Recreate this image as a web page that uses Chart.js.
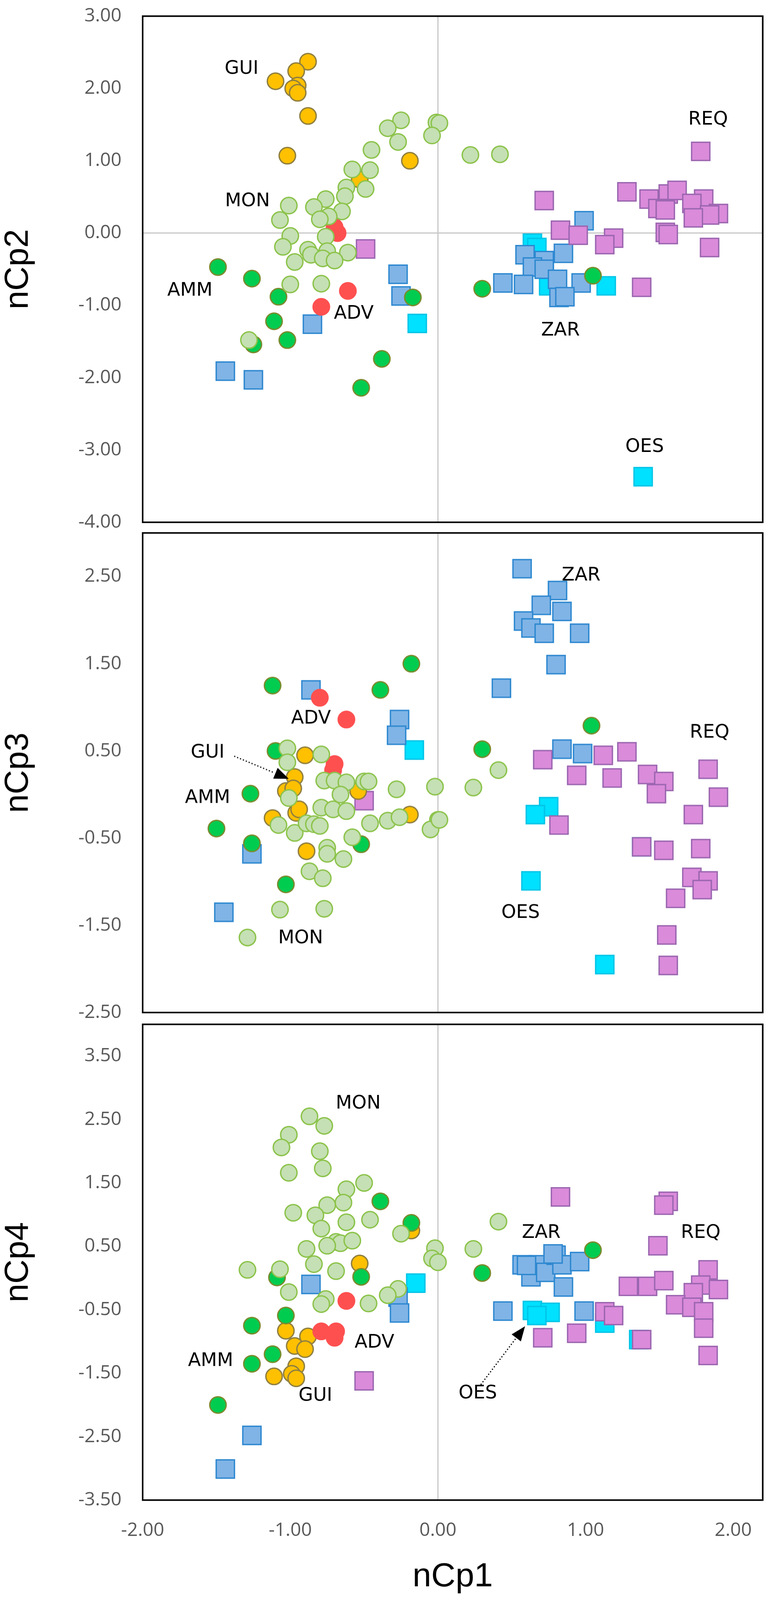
<!DOCTYPE html>
<html>
<head>
<meta charset="utf-8">
<script src="https://cdn.jsdelivr.net/npm/chart.js@4.4.0/dist/chart.umd.min.js"></script>
<style>
  html, body { margin: 0; padding: 0; background: #fff; overflow: hidden; }
  #wrap { position: relative; width: 1988px; height: 4160px; }
  .panel { position: absolute; left: 0; width: 1988px; }
</style>
</head>
<body>
<div id="wrap">
  <div class="panel" id="box2"><canvas id="cp2"></canvas></div>
  <div class="panel" id="box3"><canvas id="cp3"></canvas></div>
  <div class="panel" id="box4"><canvas id="cp4"></canvas></div>
</div>
<script>
// axis ticks
const xTicks = [-2, -1, 0, 1, 2];
const yTicks2 = [3, 2, 1, 0, -1, -2, -3, -4];
const yTicks3 = [2.5, 1.5, 0.5, -0.5, -1.5, -2.5];
const yTicks4 = [3.5, 2.5, 1.5, 0.5, -0.5, -1.5, -2.5, -3.5];

// nCp1 vs nCp2
const MON_2 = [[-0.25,1.56],[-0.34,1.45],[-0.27,1.26],[-0.01,1.53],[0.01,1.52],[-0.04,1.35],[-0.45,1.15],[0.22,1.08],[0.42,1.09],[-0.58,0.88],[-0.46,0.87],[-0.62,0.63],[-0.49,0.61],[-0.63,0.51],[-0.76,0.47],[-0.84,0.36],[-1.01,0.38],[-0.65,0.30],[-0.74,0.23],[-0.80,0.19],[-1.07,0.18],[-1.00,-0.04],[-0.76,-0.05],[-1.05,-0.19],[-0.88,-0.23],[-0.86,-0.30],[-0.75,-0.25],[-0.61,-0.27],[-0.78,-0.35],[-0.97,-0.40],[-0.70,-0.38],[-1.00,-0.71],[-0.79,-0.70],[-1.28,-1.48]];
const GUI_2 = [[-0.88,2.37],[-0.96,2.24],[-1.10,2.10],[-0.95,2.04],[-0.98,2.00],[-0.95,1.94],[-0.88,1.62],[-1.02,1.07],[-0.53,0.74],[-0.19,1.00]];
const AMM_2 = [[-1.49,-0.47],[-1.26,-0.63],[-1.08,-0.88],[-1.11,-1.22],[-1.02,-1.48],[-1.25,-1.54],[-0.17,-0.89],[-0.38,-1.74],[-0.52,-2.14],[0.30,-0.77],[1.05,-0.59]];
const ADV_2 = [[-0.68,0.00],[-0.70,0.08],[-0.61,-0.80],[-0.79,-1.02]];
const ZAR_2 = [[-1.44,-1.91],[-1.25,-2.03],[-0.85,-1.26],[-0.27,-0.57],[-0.25,-0.87],[0.99,0.17],[0.59,-0.30],[0.85,-0.28],[0.72,-0.38],[0.64,-0.47],[0.72,-0.50],[0.44,-0.69],[0.58,-0.71],[0.81,-0.64],[0.97,-0.69],[0.82,-0.89],[0.86,-0.88]];
const OES_2 = [[-0.14,-1.25],[0.64,-0.14],[0.67,-0.20],[0.75,-0.73],[1.14,-0.73],[1.39,-3.37]];
const REQ_2 = [[1.78,1.13],[0.72,0.45],[1.28,0.57],[1.43,0.47],[1.56,0.54],[1.62,0.59],[1.80,0.47],[1.72,0.41],[1.49,0.34],[1.54,0.32],[1.90,0.27],[1.84,0.25],[1.73,0.21],[1.54,0.01],[1.56,-0.02],[1.84,-0.20],[0.83,0.04],[0.95,-0.03],[1.19,-0.07],[1.13,-0.16],[1.38,-0.75],[-0.49,-0.22]];

// nCp1 vs nCp3
const MON_3 = [[-1.02,0.53],[-1.02,0.37],[-0.79,0.46],[-1.01,-0.04],[-0.77,0.16],[-0.70,0.16],[-0.62,0.14],[-0.50,0.15],[-0.47,0.15],[-0.66,0.00],[-0.28,0.06],[-0.02,0.09],[-0.79,-0.15],[-0.71,-0.17],[-0.62,-0.19],[-1.08,-0.35],[-0.97,-0.44],[-0.89,-0.33],[-0.84,-0.34],[-0.80,-0.36],[-0.46,-0.33],[-0.34,-0.30],[-0.26,-0.26],[0.00,-0.29],[-0.05,-0.40],[-0.58,-0.49],[-0.75,-0.61],[-0.75,-0.68],[-0.64,-0.74],[-0.87,-0.88],[-0.78,-0.96],[-1.07,-1.32],[-0.77,-1.31],[-1.29,-1.64],[0.24,0.08],[0.41,0.28],[0.01,-0.29]];
const GUI_3 = [[-0.90,0.45],[-0.97,0.20],[-1.03,0.04],[-0.98,0.07],[-0.54,0.04],[-0.96,-0.21],[-0.94,-0.17],[-1.12,-0.27],[-0.19,-0.23],[-0.89,-0.65]];
const AMM_3 = [[-1.12,1.25],[-0.39,1.20],[-0.18,1.50],[-1.10,0.50],[-1.27,0.01],[-1.50,-0.39],[-1.26,-0.56],[-0.52,-0.57],[-1.03,-1.03],[0.30,0.52],[1.04,0.79]];
const ADV_3 = [[-0.80,1.11],[-0.62,0.86],[-0.70,0.35],[-0.71,0.28]];
const ZAR_3 = [[-0.86,1.20],[-0.26,0.86],[-0.28,0.68],[-1.26,-0.68],[-1.45,-1.35],[0.57,2.59],[0.81,2.34],[0.70,2.17],[0.84,2.10],[0.58,1.99],[0.63,1.91],[0.72,1.85],[0.96,1.85],[0.80,1.49],[0.43,1.22],[0.84,0.52],[0.98,0.47]];
const OES_3 = [[-0.16,0.51],[0.75,-0.14],[0.66,-0.23],[0.63,-0.99],[1.13,-1.95],[1.38,-0.60]];
const REQ_3 = [[-0.50,-0.07],[0.71,0.40],[0.94,0.22],[1.12,0.45],[1.28,0.49],[1.18,0.19],[1.42,0.23],[1.53,0.15],[1.48,0.01],[1.83,0.29],[1.90,-0.03],[1.73,-0.23],[0.82,-0.35],[1.38,-0.60],[1.53,-0.64],[1.78,-0.62],[1.72,-0.95],[1.83,-0.99],[1.79,-1.09],[1.61,-1.19],[1.55,-1.61],[1.56,-1.96]];

// nCp1 vs nCp4
const MON_4 = [[-0.87,2.55],[-0.77,2.40],[-1.01,2.26],[-1.06,2.06],[-0.80,2.00],[-0.78,1.73],[-1.01,1.66],[-0.50,1.50],[-0.62,1.40],[-0.64,1.19],[-0.75,1.15],[-0.98,1.03],[-0.83,0.99],[-0.62,0.88],[-0.46,0.92],[-0.79,0.78],[-0.25,0.70],[-0.69,0.57],[-0.66,0.55],[-0.75,0.51],[-0.58,0.59],[-0.89,0.46],[-0.02,0.47],[-0.04,0.31],[0.00,0.25],[-0.84,0.22],[-1.29,0.13],[-1.07,0.14],[-0.69,0.11],[-1.01,-0.22],[-0.27,-0.17],[-0.34,-0.27],[-0.76,-0.33],[-0.79,-0.41],[-0.47,-0.40],[0.41,0.89],[0.24,0.46]];
const GUI_4 = [[-0.53,0.23],[-0.18,0.75],[-1.03,-0.83],[-0.88,-0.92],[-0.97,-1.07],[-0.90,-1.12],[-0.96,-1.39],[-0.99,-1.51],[-0.96,-1.58],[-1.11,-1.55]];
const AMM_4 = [[-0.39,1.21],[-0.18,0.87],[-1.09,0.01],[-0.52,0.02],[-1.03,-0.59],[-1.26,-0.75],[-1.12,-1.20],[-1.26,-1.35],[-1.49,-2.00],[0.30,0.08],[1.05,0.44]];
const ADV_4 = [[-0.62,-0.36],[-0.79,-0.84],[-0.69,-0.84],[-0.70,-0.94]];
const ZAR_4 = [[-0.86,-0.10],[-0.27,-0.30],[-0.26,-0.55],[-1.26,-2.48],[-1.44,-3.01],[0.57,0.21],[0.63,0.02],[0.68,0.21],[0.73,0.09],[0.80,0.36],[0.84,0.21],[0.96,0.26],[0.85,-0.14],[0.44,-0.52],[0.99,-0.52],[0.78,0.38],[0.60,0.20]];
const OES_4 = [[-0.15,-0.08],[0.64,-0.51],[0.76,-0.54],[0.67,-0.59],[1.13,-0.71],[1.36,-0.97]];
const REQ_4 = [[-0.50,-1.62],[0.83,1.28],[1.56,1.21],[1.53,1.15],[1.49,0.51],[1.83,0.13],[1.29,-0.13],[1.42,-0.13],[1.53,-0.04],[1.78,-0.11],[1.73,-0.23],[1.90,-0.18],[1.61,-0.42],[1.72,-0.46],[1.80,-0.53],[1.80,-0.79],[1.83,-1.22],[1.13,-0.53],[1.19,-0.59],[0.94,-0.87],[0.71,-0.94],[1.38,-0.97]];

// group labels [text, nCp1, nCpN] and arrows [fromX, fromY, toX, toY]
const LAB_2 = [['GUI',-1.33,2.27],['MON',-1.29,0.44],['AMM',-1.68,-0.80],['ADV',-0.57,-1.12],['REQ',1.83,1.57],['ZAR',0.83,-1.35],['OES',1.40,-2.96]];
const LAB_3 = [['ZAR',0.97,2.51],['ADV',-0.86,0.87],['GUI',-1.56,0.48],['AMM',-1.56,-0.04],['REQ',1.84,0.71],['OES',0.56,-1.36],['MON',-0.93,-1.65]];
const LAB_4 = [['MON',-0.54,2.75],['ZAR',0.70,0.71],['REQ',1.78,0.71],['ADV',-0.43,-1.02],['AMM',-1.54,-1.31],['GUI',-0.83,-1.86],['OES',0.27,-1.82]];
const ARR_3 = [[-1.38,0.44,-1.01,0.18]];
const ARR_4 = [[0.29,-1.68,0.59,-0.76]];

// first listed is drawn on top
const styles = {
  MON: { shape: 'circle', fill: '#C5E0B4', line: '#8CC34B' },
  AMM: { shape: 'circle', fill: '#00CC50', line: '#7B8B2E' },
  ADV: { shape: 'circle', fill: '#FF5050', line: '#FF5050' },
  GUI: { shape: 'circle', fill: '#FFC000', line: '#8F7F40' },
  REQ: { shape: 'rect', fill: '#DA8BDA', line: '#9B66B0' },
  ZAR: { shape: 'rect', fill: '#80B4E6', line: '#2E88D0' },
  OES: { shape: 'rect', fill: '#00E0FF', line: '#00C4E6' }
};

Chart.defaults.font.family = '"Open Sans", sans-serif';

// the window may be shorter than the 4160px design height: squeeze vertically
const REF_H = 4160;
const k = window.innerHeight > 1000 ? Math.min(1, window.innerHeight / REF_H) : 1;
document.getElementById('wrap').style.height = (REF_H * k) + 'px';

const TITLE_LH = 86 * 1.2;

function toSets(groups) {
  return Object.keys(groups).map(name => {
    const s = styles[name];
    return {
      label: name,
      data: groups[name].map(p => ({ x: p[0], y: p[1] })),
      pointStyle: s.shape,
      pointRadius: s.shape === 'rect' ? 33 : 21,
      borderWidth: 3.5,
      backgroundColor: s.fill,
      borderColor: s.line
    };
  });
}

const overlay = {
  id: 'overlay',
  afterDatasetsDraw(chart, args, opts) {
    const { ctx, chartArea: a, scales: { x, y } } = chart;
    ctx.save();
    (opts.arrows || []).forEach(([x0, y0, x1, y1]) => {
      const px0 = x.getPixelForValue(x0), py0 = y.getPixelForValue(y0);
      const px1 = x.getPixelForValue(x1), py1 = y.getPixelForValue(y1);
      const ang = Math.atan2(py1 - py0, px1 - px0);
      const head = 40;
      ctx.strokeStyle = '#000';
      ctx.lineWidth = 3;
      ctx.setLineDash([3, 5]);
      ctx.beginPath();
      ctx.moveTo(px0, py0);
      ctx.lineTo(px1 - head * Math.cos(ang), py1 - head * Math.sin(ang));
      ctx.stroke();
      ctx.setLineDash([]);
      ctx.fillStyle = '#000';
      ctx.beginPath();
      ctx.moveTo(px1, py1);
      ctx.lineTo(px1 - head * Math.cos(ang - 0.38), py1 - head * Math.sin(ang - 0.38));
      ctx.lineTo(px1 - head * Math.cos(ang + 0.38), py1 - head * Math.sin(ang + 0.38));
      ctx.closePath();
      ctx.fill();
    });
    ctx.fillStyle = '#000';
    ctx.font = '48px "DejaVu Sans"';
    ctx.textAlign = 'center';
    ctx.textBaseline = 'middle';
    (opts.labels || []).forEach(([t, lx, ly]) => {
      ctx.fillText(t, x.getPixelForValue(lx), y.getPixelForValue(ly));
    });
    ctx.strokeStyle = '#000';
    ctx.lineWidth = 4;
    ctx.strokeRect(a.left, a.top, a.right - a.left, a.bottom - a.top);
    ctx.restore();
  }
};

const zeroLine = c => (c.tick && c.tick.value === 0 ? '#C8C8C8' : 'rgba(0,0,0,0)');

// top/bottom: plot area edges in the 4160px design; boxTop: canvas top
function makeChart(id, boxId, boxTop, top, bottom, groups, yMin, yMax, yTicks, yTitle, labels, arrows, xAxis) {
  const box = document.getElementById(boxId);
  const padTop = (top - boxTop) * k;
  const xH = xAxis ? 200 * k + TITLE_LH / 2 : 0;
  const padBottom = xAxis ? 0 : 50 * k;
  box.style.top = (boxTop * k) + 'px';
  box.style.height = (padTop + (bottom - top) * k + xH + padBottom) + 'px';

  return new Chart(document.getElementById(id), {
    type: 'scatter',
    data: { datasets: toSets(groups) },
    plugins: [overlay],
    options: {
      responsive: true,
      maintainAspectRatio: false,
      animation: false,
      events: [],
      layout: { padding: { top: padTop, bottom: padBottom, left: 0, right: 25 } },
      plugins: {
        legend: { display: false },
        tooltip: { enabled: false },
        overlay: { labels: labels, arrows: arrows }
      },
      scales: {
        x: {
          type: 'linear',
          min: -2,
          max: 2.2,
          afterBuildTicks: s => { s.ticks = xTicks.map(v => ({ value: v })); },
          afterFit: s => { s.height = xH; },
          grid: { color: zeroLine, lineWidth: 3, drawTicks: false },
          border: { display: false },
          ticks: {
            display: xAxis,
            padding: 79 * k - 29,
            color: '#595959',
            font: { size: 48 },
            callback: v => v.toFixed(2)
          },
          title: {
            display: xAxis,
            text: 'nCp1',
            color: '#000',
            padding: 0,
            font: { family: '"Liberation Sans", Arial, sans-serif', size: 86, lineHeight: 1.2 }
          }
        },
        y: {
          type: 'linear',
          min: yMin,
          max: yMax,
          afterBuildTicks: s => { s.ticks = yTicks.map(v => ({ value: v })); },
          afterFit: s => { s.width = 365; },
          grid: { color: zeroLine, lineWidth: 3, drawTicks: true, tickLength: 54, tickColor: 'rgba(0,0,0,0)' },
          border: { display: false },
          ticks: {
            padding: 0,
            color: '#595959',
            font: { size: 48 },
            callback: v => v.toFixed(2)
          },
          title: {
            display: true,
            text: yTitle,
            color: '#000',
            padding: 0,
            font: { family: '"Liberation Sans", Arial, sans-serif', size: 86, lineHeight: 1.1 }
          }
        }
      }
    }
  });
}

makeChart('cp2', 'box2', 0, 42, 1358,
  { MON: MON_2, AMM: AMM_2, ADV: ADV_2, GUI: GUI_2, REQ: REQ_2, ZAR: ZAR_2, OES: OES_2 },
  -4, 3, yTicks2, 'nCp2', LAB_2, [], false);
makeChart('cp3', 'box3', 1340, 1386, 2632,
  { MON: MON_3, AMM: AMM_3, ADV: ADV_3, GUI: GUI_3, REQ: REQ_3, ZAR: ZAR_3, OES: OES_3 },
  -2.5, 3, yTicks3, 'nCp3', LAB_3, ARR_3, false);
makeChart('cp4', 'box4', 2620, 2663, 3900,
  { MON: MON_4, AMM: AMM_4, ADV: ADV_4, GUI: GUI_4, REQ: REQ_4, ZAR: ZAR_4, OES: OES_4 },
  -3.5, 4, yTicks4, 'nCp4', LAB_4, ARR_4, true);
</script>
</body>
</html>
